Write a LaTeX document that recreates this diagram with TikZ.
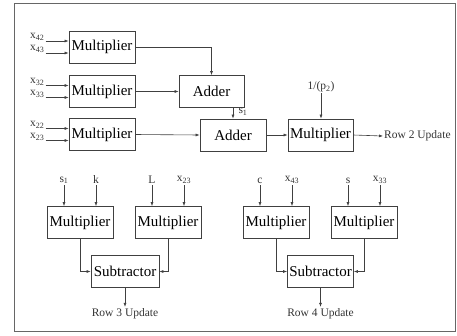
\documentclass[tikz,border=0pt]{standalone}
\usepackage{fontspec}
\setmainfont{Liberation Serif}
\usepackage{tikz}
\usetikzlibrary{positioning,calc,arrows.meta}
\tikzset{>={Latex[length=4pt,width=3pt]}}
\tikzset{unit/.style={draw=black!75,line width=0.7pt,minimum width=66pt,minimum height=32pt,inner sep=0pt,font=\fontsize{15}{18}\selectfont},
  sig/.style={font=\fontsize{11.5}{14}\selectfont,text=black!80,inner sep=1pt},
  wire/.style={draw=black!75,line width=0.6pt,->}}

\begin{document}
\begin{tikzpicture}[x=1pt,y=-1pt]
\useasboundingbox (0,0) rectangle (457,335);
\draw[black!60,line width=1pt] (14,3) rectangle (455,331);
% row 2 update
\node[unit] (M42) at (102,47) {Multiplier};
\node[unit] (M32) at (102,91.5) {Multiplier};
\node[unit] (M22) at (102,134.5) {Multiplier};
\node[unit,minimum width=65pt] (A1) at (211.5,91.5) {Adder};
\node[unit] (A2) at (233,135) {Adder};
\node[unit,minimum width=65pt] (M2) at (320.5,135) {Multiplier};
\node[sig,anchor=west] (R2) at (383,136) {Row 2 Update};
\node[sig] (P2) at (321,87) {1/(p\textsubscript{2})};
\node[sig] (S1) at (243,112) {s\textsubscript{1}};
\foreach \m/\a/\b in {M42/42/43,M32/32/33,M22/22/23}{
  \coordinate (\m-a) at ($(\m.west)+(-23,-6)$);
  \coordinate (\m-b) at ($(\m.west)+(-23,6)$);
  \draw[wire] (\m-a) node[sig,left,yshift=4pt] {x\textsubscript{\a}} -- (\m-a -| \m.west);
  \draw[wire] (\m-b) node[sig,left,yshift=4pt] {x\textsubscript{\b}} -- (\m-b -| \m.west);
}
\draw[wire] (M42.east) -| (A1.north);
\draw[wire] (M32.east) -- (A1.west);
\draw[wire] (M22.east) -- (A2.west);
\draw[wire] (A1.south -| A2.north) -- (A2.north);
\draw[wire] (A2.east) -- (M2.west);
\draw[wire] (M2.east) -- (R2.west);
\draw[wire] (P2.south) -- (P2 |- M2.north);
% row 3 and row 4 update
\node[unit] (BL1) at (80,222.5) {Multiplier};
\node[unit] (BL2) at (168,222.5) {Multiplier};
\node[unit,minimum width=68pt] (SL) at (125,271.5) {Subtractor};
\node[unit] (BR1) at (276,222.5) {Multiplier};
\node[unit] (BR2) at (364,222.5) {Multiplier};
\node[unit,minimum width=66pt] (SR) at (320.5,271.5) {Subtractor};
\foreach \m/\p/\q in {BL1/s\textsubscript{1}/k,BL2/L/x\textsubscript{23},BR1/c/x\textsubscript{43},BR2/s/x\textsubscript{33}}{
  \coordinate (\m-p) at ($(\m.north)+(-16,-21)$);
  \coordinate (\m-q) at ($(\m.north)+(16,-21)$);
  \draw[wire] (\m-p) node[sig,above] {\p} -- (\m-p |- \m.north);
  \draw[wire] (\m-q) node[sig,above] {\q} -- (\m-q |- \m.north);
}
\foreach \s/\l/\r/\n in {SL/BL1/BL2/3,SR/BR1/BR2/4}{
  \draw[wire] (\l.south) |- (\s.west);
  \draw[wire] (\r.south) |- (\s.east);
  \coordinate (\s-o) at ($(\s.south)+(0,19)$);
  \draw[wire] (\s.south) -- (\s-o);
  \node[sig,below] (\s-t) at (\s-o) {Row \n\ Update};
}
\end{tikzpicture}
\end{document}
